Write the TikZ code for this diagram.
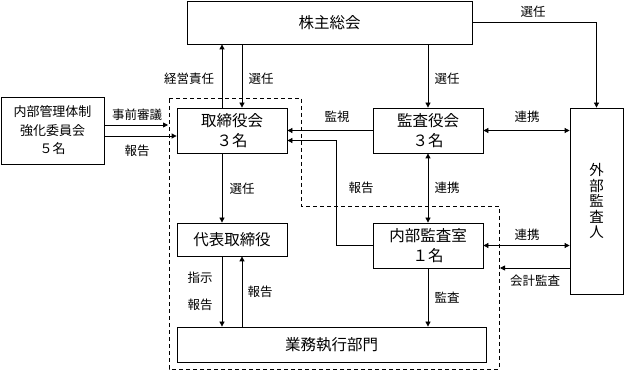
\documentclass[tikz,border=0pt]{standalone}
\usepackage{fontspec}
\setmainfont{Noto Sans CJK JP}
\usepackage{tikz}
\usetikzlibrary{arrows.meta, positioning, calc}
\tikzset{
  obox/.style={draw, fill=white, align=center, inner sep=0pt, line width=0.8pt,
    font=\fontsize{15.5}{20}\selectfont},
  cbox/.style={obox, font=\fontsize{13}{18.5}\selectfont},
  vbox/.style={obox, font=\fontsize{14.5}{15.5}\selectfont},
  lbl/.style={font=\fontsize{12.5}{14}\selectfont, inner sep=1pt},
  flow/.style={-{Triangle[length=5pt,width=5pt]}, line width=0.8pt},
  twoway/.style={{Triangle[length=5pt,width=5pt]}-{Triangle[length=5pt,width=5pt]}, line width=0.8pt},
  frame/.style={dashed, dash pattern=on 4pt off 3pt, line width=0.8pt}
}

\begin{document}
\begin{tikzpicture}[x=1pt, y=-1pt]
\useasboundingbox (0,0) rectangle (625,371);
% dashed frame round the company side
\draw[frame] (169,98) -- (301,98) -- (301,206) -- (499,206) -- (499,369) -- (169,369) -- cycle;
\node[obox, minimum width=285pt, minimum height=43pt] (sh) at (329.5,22.5) {株主総会};
\node[cbox, minimum width=103pt, minimum height=67pt] (cmte) at (52.5,130.5) {内部管理体制\\強化委員会\\５名};
\node[obox, minimum width=110pt, minimum height=45pt] (board) at (232,130.5) {取締役会\\３名};
\node[obox, minimum width=110pt, minimum height=45pt] (kansa) at (428,130.5) {監査役会\\３名};
\node[vbox, minimum width=53pt, minimum height=186pt] (ext) at (596.5,201) {外\\部\\監\\査\\人};
\node[obox, minimum width=110pt, minimum height=45pt] (naibu) at (428,245.5) {内部監査室\\１名};
\node[obox, minimum width=110pt, minimum height=33pt] (rep) at (232,239.5) {代表取締役};
\node[obox, minimum width=309pt, minimum height=35pt] (ops) at (331.5,344.5) {業務執行部門};
\coordinate (pre) at (168,125);
\coordinate (acc) at (500,268);
% shareholders
\draw[flow] ([xshift=-10pt]board.north) -- ([xshift=-10pt]board.north |- sh.south);
\draw[flow] ([xshift=10pt]board.north |- sh.south) -- ([xshift=10pt]board.north);
\draw[flow] (kansa.north |- sh.south) -- (kansa.north);
\draw[flow] (sh.east) -| (ext.north);
% committee
\draw[flow] (cmte.east |- pre) -- (pre);
\draw[flow] ([yshift=-5.5pt]cmte.east) -- ([yshift=-5.5pt]cmte.east -| board.west);
% audit side
\draw[flow] (kansa.west) -- (board.east);
\draw[flow] (naibu.west) -- ++(-36,0) |- ([yshift=-10pt]board.east);
\draw[twoway] (kansa.south) -- (naibu.north);
\draw[twoway] (kansa.east) -- (kansa.east -| ext.west);
\draw[twoway] (naibu.east) -- (naibu.east -| ext.west);
\draw[flow] (ext.west |- acc) -- (acc);
\draw[flow] (naibu.south) -- (naibu.south |- ops.north);
% executive line
\draw[flow] ([xshift=-10pt]board.south) -- ([xshift=-10pt]rep.north);
\draw[flow] ([xshift=-10pt]rep.south) -- ([xshift=-10pt]rep.south |- ops.north);
\draw[flow] ([xshift=10pt]rep.south |- ops.north) -- ([xshift=10pt]rep.south);
% labels
\node[lbl] (l1) at (189,79) {経営責任};
\node[lbl] (l2) at (261,79) {選任};
\node[lbl] (l3) at (447,79) {選任};
\node[lbl] (l4) at (533,12) {選任};
\node[lbl] (l5) at (137,115) {事前審議};
\node[lbl] (l6) at (137,151) {報告};
\node[lbl] (l7) at (337,117) {監視};
\node[lbl] (l8) at (527,117) {連携};
\node[lbl] (l9) at (361,188) {報告};
\node[lbl] (l10) at (447,188) {連携};
\node[lbl] (l11) at (242,189) {選任};
\node[lbl] (l12) at (527,235) {連携};
\node[lbl] (l13) at (535,281) {会計監査};
\node[lbl] (l14) at (447,298) {監査};
\node[lbl] (l15) at (200,278) {指示};
\node[lbl] (l16) at (200,305) {報告};
\node[lbl] (l17) at (260,292) {報告};
\end{tikzpicture}
\end{document}
